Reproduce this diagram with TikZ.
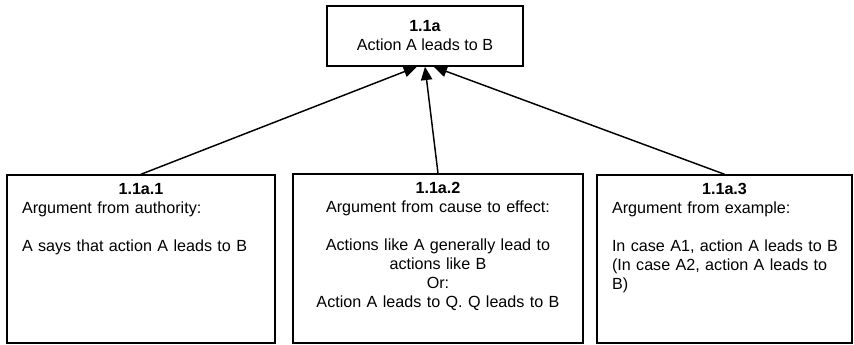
\documentclass[tikz,border=0pt]{standalone}
\usepackage{fontspec}
\setmainfont{Liberation Sans}
\usetikzlibrary{arrows.meta}

\tikzset{
  claim/.style={draw, rectangle, line width=1.1pt, inner sep=0pt},
  argtext/.style={anchor=north, inner sep=0pt, yshift=-6.5pt},
  support/.style={line width=1.1pt, -{Triangle[length=10pt,width=8.5pt]}}
}

\begin{document}
\begin{tikzpicture}[x=0.75pt, y=-0.75pt, font=\fontsize{12.1}{14.25}\selectfont]
  \useasboundingbox (0,0) rectangle (854,345);

  % claim
  \node[claim, minimum width=147pt, minimum height=45pt, align=center] (top) at (425,36) {\textbf{1.1a}\\Action A leads to B};

  % arguments
  \node[claim, minimum width=201pt, minimum height=126pt] (arg1) at (141,259) {};
  \node[claim, minimum width=217.5pt, minimum height=126.75pt] (arg2) at (438,258.5) {};
  \node[claim, minimum width=191.25pt, minimum height=126pt] (arg3) at (724.5,259) {};

  \node[argtext, text width=178.5pt, align=left] (arg1text) at (arg1.north) {\makebox[\hsize]{\textbf{1.1a.1}}\\Argument from authority:\\[14.25pt]A says that action A leads to B};
  \node[argtext, text width=195pt, align=center] (arg2text) at (arg2.north) {\textbf{1.1a.2}\\Argument from cause to effect:\\[14.25pt]Actions like A generally lead to\\actions like B\\Or:\\Action A leads to Q. Q leads to B};
  \node[argtext, text width=168.75pt, align=left] (arg3text) at (arg3.north) {\makebox[\hsize]{\textbf{1.1a.3}}\\Argument from example:\\[14.25pt]\mbox{In case A1, action A leads to B}\\\mbox{(In case A2, action A leads to}\\B)};

  \draw[support] (arg1.north) -- ([xshift=-6pt]top.south);
  \draw[support] (arg2.north) -- ([xshift=0pt]top.south);
  \draw[support] (arg3.north) -- ([xshift=6.5pt]top.south);
\end{tikzpicture}
\end{document}
